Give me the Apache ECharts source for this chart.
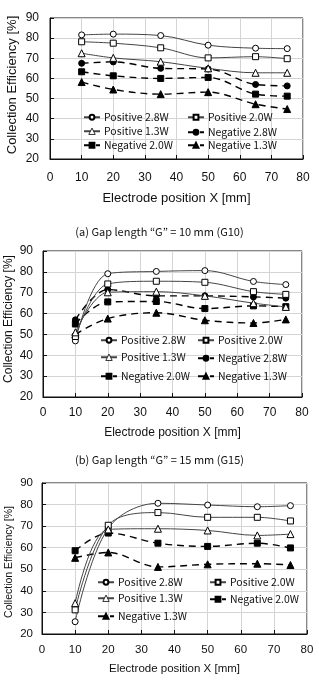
<!DOCTYPE html>
<html>
<head>
<meta charset="utf-8">
<script src="https://cdn.jsdelivr.net/npm/echarts@6/dist/echarts.min.js"></script>
<style>
  html, body { margin:0; padding:0; background:#fff; }
  #echarts { width:319px; height:691px; }
</style>
</head>
<body>
<div id="echarts"></div>
<script type="text/javascript">
// electrode positions (mm)
var xPos = [10, 20, 35, 50, 65, 75];
var yTicks = [20, 30, 40, 50, 60, 70, 80, 90];

// (a) G10
var g10Pos28 = [81.6, 82.0, 81.3, 76.5, 75.0, 74.8];
var g10Pos20 = [78.2, 77.5, 75.2, 70.2, 70.8, 69.8];
var g10Pos13 = [72.5, 70.2, 68.3, 65.0, 62.8, 62.8];
var g10Neg28 = [67.5, 68.2, 65.0, 64.7, 57.0, 56.3];
var g10Neg20 = [63.3, 61.3, 60.0, 60.5, 52.2, 51.2];
var g10Neg13 = [58.2, 54.5, 52.2, 53.2, 47.2, 44.8];

// (b) G15
var g15Pos28 = [46.9, 79.1, 80.2, 80.6, 75.4, 73.9];
var g15Pos20 = [49.0, 74.2, 75.5, 75.0, 70.5, 69.2];
var g15Pos13 = [51.0, 70.2, 70.5, 68.5, 65.0, 63.2];
var g15Neg28 = [57.0, 71.5, 68.5, 68.5, 68.0, 67.4];
var g15Neg20 = [55.0, 65.6, 65.8, 62.4, 63.7, 63.3];
var g15Neg13 = [50.0, 57.6, 60.4, 56.8, 55.5, 57.2];

// (c) G20
var g20Pos28 = [25.7, 69.0, 80.6, 79.8, 79.0, 79.5];
var g20Pos20 = [31.2, 70.4, 76.3, 74.1, 74.1, 72.4];
var g20Pos13 = [34.3, 68.5, 68.8, 68.0, 65.7, 66.3];
var g20Neg20 = [58.6, 66.8, 62.1, 60.6, 62.1, 59.9];
var g20Neg13 = [55.3, 57.8, 51.1, 52.3, 52.6, 52.0];

var captions = ['(a) Gap length “G” = 10 mm (G10)', '(b) Gap length “G” = 15 mm (G15)'];
var yTitle = 'Collection Efficiency [%]';

var styles = {
  'Positive 2.8W': {sym:'circle', fill:'#fff', dash:'solid'},
  'Positive 2.0W': {sym:'rect', fill:'#fff', dash:'solid'},
  'Positive 1.3W': {sym:'triangle', fill:'#fff', dash:'solid'},
  'Negative 2.8W': {sym:'circle', fill:'#000', dash:'dashed'},
  'Negative 2.0W': {sym:'rect', fill:'#000', dash:'dashed'},
  'Negative 1.3W': {sym:'triangle', fill:'#000', dash:'dashed'}
};

function pairs(vals){
  var out = [];
  for (var i=0;i<xPos.length;i++) out.push([xPos[i], vals[i]]);
  return out;
}

function mkSeries(name, vals, idx){
  var s = styles[name];
  var neg = s.dash == 'dashed';
  return {
    name: name, type:'line', xAxisIndex: idx, yAxisIndex: idx,
    data: pairs(vals), smooth: 0.35,
    symbol: s.sym, symbolSize: s.sym=='triangle' ? 7 : 6,
    itemStyle: {color: s.fill, borderColor:'#000', borderWidth:1},
    lineStyle: neg ? {color:'#000', width:1.4, type:[7,5]} : {color:'#444', width:1},
    animation:false, z: neg ? 3 : 4
  };
}

var grids = [
  {left:50, right:16, top:18, height:141},
  {left:43, right:17, top:251, height:146},
  {left:42, right:12, top:483, height:151}
];
var fs = [
  {tick:12, name:13, xm:13, ym:11, ngx:33, ty:12, tcy:85, tfs:13},
  {tick:12, name:12, xm:10, ym:10, ngx:30, ty:9, tcy:319, tfs:12},
  {tick:11.5, name:11.5, xm:10, ym:9, ngx:29, ty:9, tcy:562, tfs:10.5}
];

var xAxes = [], yAxes = [], titles = [];
for (var g=0; g<3; g++){
  xAxes.push({
    type:'value', gridIndex:g, min:0, max:80, interval:10,
    name:'Electrode position X [mm]', nameLocation:'middle', nameGap:fs[g].ngx,
    nameTextStyle:{fontFamily:'Liberation Sans', fontSize:fs[g].name, color:'#111'},
    axisLine:{lineStyle:{color:'#111', width:1}},
    axisTick:{inside:true, length:4, lineStyle:{color:'#111'}},
    axisLabel:{fontFamily:'Liberation Sans', fontSize:fs[g].tick, color:'#111', margin:fs[g].xm},
    splitLine:{show:true, lineStyle:{color:'#d4d4d4', width:1}}
  });
  yAxes.push({
    type:'value', gridIndex:g, min:yTicks[0], max:yTicks[yTicks.length-1], interval:10,
    axisLine:{show:true, lineStyle:{color:'#111', width:1}},
    axisTick:{show:true, inside:true, length:4, lineStyle:{color:'#111'}},
    axisLabel:{fontFamily:'Liberation Sans', fontSize:fs[g].tick, color:'#111', margin:fs[g].ym},
    splitLine:{show:true, lineStyle:{color:'#d4d4d4', width:1}}
  });
  titles.push({
    type:'text', x:fs[g].ty, y:fs[g].tcy, rotation:Math.PI/2,
    style:{text:yTitle, fill:'#111', align:'center', verticalAlign:'middle',
      font: fs[g].tfs + 'px "Liberation Sans"'}
  });
}

var series = [
  mkSeries('Positive 2.8W', g10Pos28, 0), mkSeries('Positive 2.0W', g10Pos20, 0),
  mkSeries('Positive 1.3W', g10Pos13, 0), mkSeries('Negative 2.8W', g10Neg28, 0),
  mkSeries('Negative 2.0W', g10Neg20, 0), mkSeries('Negative 1.3W', g10Neg13, 0),
  mkSeries('Positive 2.8W', g15Pos28, 1), mkSeries('Positive 2.0W', g15Pos20, 1),
  mkSeries('Positive 1.3W', g15Pos13, 1), mkSeries('Negative 2.8W', g15Neg28, 1),
  mkSeries('Negative 2.0W', g15Neg20, 1), mkSeries('Negative 1.3W', g15Neg13, 1),
  mkSeries('Positive 2.8W', g20Pos28, 2), mkSeries('Positive 2.0W', g20Pos20, 2),
  mkSeries('Positive 1.3W', g20Pos13, 2), mkSeries('Negative 2.0W', g20Neg20, 2),
  mkSeries('Negative 1.3W', g20Neg13, 2)
];

// one legend per entry so the two columns line up
var legendItems = [
  ['Positive 2.8W', 83, 112], ['Positive 2.0W', 187, 112],
  ['Positive 1.3W', 83, 127], ['Negative 2.8W', 187, 127],
  ['Negative 2.0W', 83, 140], ['Negative 1.3W', 187, 140],
  ['Positive 2.8W', 100, 335], ['Positive 2.0W', 197, 335],
  ['Positive 1.3W', 100, 353], ['Negative 2.8W', 197, 353],
  ['Negative 2.0W', 100, 371], ['Negative 1.3W', 197, 371],
  ['Positive 2.8W', 97, 577], ['Positive 2.0W', 209, 577],
  ['Positive 1.3W', 97, 594], ['Negative 2.0W', 209, 594],
  ['Negative 1.3W', 97, 611]
];
var legends = [];
for (var i=0;i<legendItems.length;i++){
  var tri = legendItems[i][0] == 'Positive 1.3W';
  legends.push({
    data:[legendItems[i][0]], left:legendItems[i][1], top:legendItems[i][2] - (tri ? 1 : 0),
    padding:0, itemWidth:16, itemHeight: tri ? 8 : 6, itemGap:0, selectedMode:false,
    itemStyle: tri ? {borderWidth:0.8} : {},
    textStyle:{fontFamily:'Noto Sans CJK JP', fontSize:10.5, color:'#111', padding:[0,0,0,-1]}
  });
}

var thechart = echarts.init(document.getElementById('echarts'));
var theoption = {
  animation:false,
  grid: grids.map(function(r){ return Object.assign({show:true, borderColor:'#111', borderWidth:1, outerBoundsMode:'none'}, r); }),
  xAxis: xAxes,
  yAxis: yAxes,
  legend: legends,
  graphic: titles,
  title: [
    {text:captions[0], left:'center', top:221, textStyle:{fontFamily:'Noto Sans CJK JP', fontSize:11, fontWeight:'normal', color:'#111'}},
    {text:captions[1], left:'center', top:449, textStyle:{fontFamily:'Noto Sans CJK JP', fontSize:11, fontWeight:'normal', color:'#111'}}
  ],
  series: series
};
thechart.setOption(theoption, true);
</script>
</body>
</html>
